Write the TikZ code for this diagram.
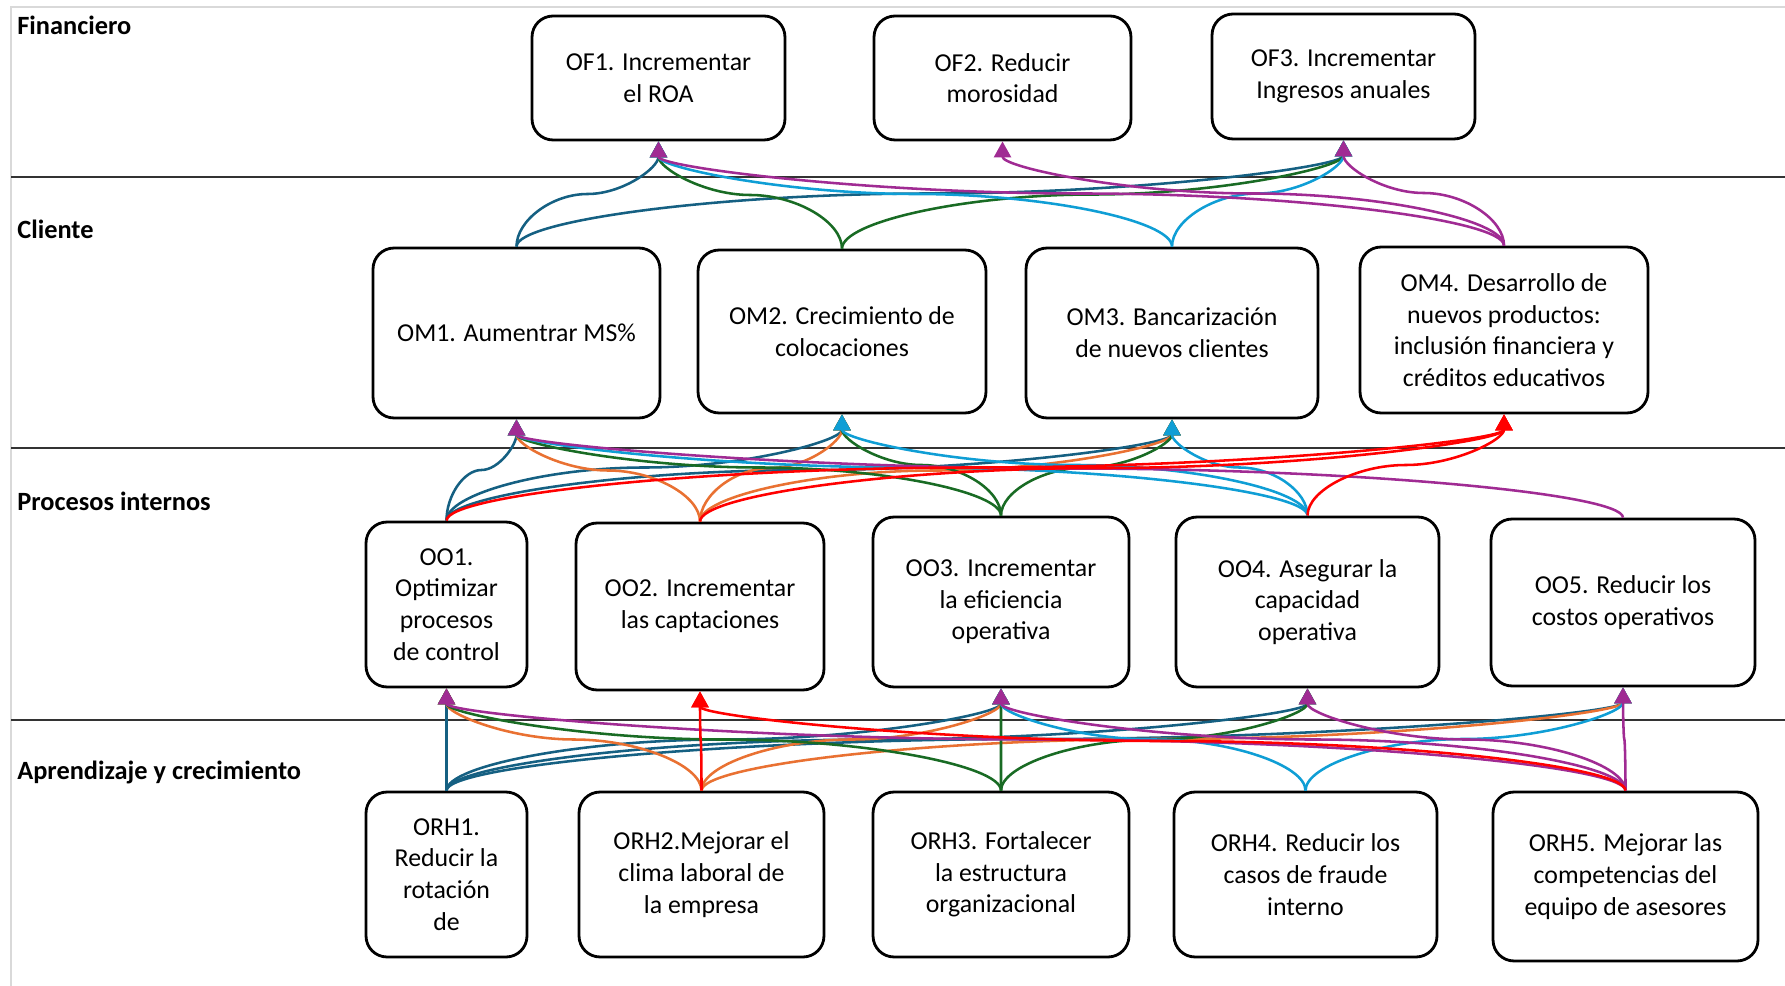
\documentclass[tikz,border=0pt]{standalone}
\usepackage{fontspec}
\setmainfont{Carlito}
\usetikzlibrary{calc}
\usetikzlibrary{arrows.meta}

\definecolor{acteal}{HTML}{156082}
\definecolor{acorange}{HTML}{E97132}
\definecolor{acgreen}{HTML}{196B24}
\definecolor{acblue}{HTML}{0F9ED5}
\definecolor{acpurple}{HTML}{A02B93}
\definecolor{acred}{HTML}{FF0000}
\definecolor{gridgray}{HTML}{D9D9D9}

\tikzset{
  objbox/.style={draw, line width=1.6pt, rounded corners=0.42cm, fill=white, align=center, inner sep=2pt, font=\fontsize{14.7}{18}\selectfont},
  lanelabel/.style={anchor=west, inner sep=0pt, font=\bfseries\fontsize{15}{18}\selectfont},
  elbow/.style={to path={let \p1=(\tikztostart), \p2=(\tikztotarget), \p3=($(\p1)!.5!(\p2)$) in
    .. controls (\x1,{(\y1+\y3)/2}) and ({(3*\x1+\x2)/4},\y3) .. (\p3)
    .. controls ({(\x1+3*\x2)/4},\y3) and (\x2,{(\y3+\y2)/2}) .. (\p2)}},
  link/.style={line width=1.45pt, elbow, -{Triangle[length=0.32cm,width=0.34cm]}},
  laneline/.style={line width=0.9pt, black!80},
}

\begin{document}
\begin{tikzpicture}[x=0.02cm, y=-0.02cm]
		\useasboundingbox (0,0) rectangle (1785,986);
		\draw[gridgray, line width=0.8pt] (11,986) -- (11,7) -- (1785,7);
		\draw[laneline] (11,177) -- (1785,177);
		\draw[laneline] (11,448) -- (1785,448);
		\draw[laneline] (11,720) -- (1785,720);
		% lanes
		\node[lanelabel] at (17,25) (lfin) {Financiero};
		\node[lanelabel] at (17,229) (lcli) {Cliente};
		\node[lanelabel] at (17,501) (lpro) {Procesos internos};
		\node[lanelabel] at (17,772) (lapr) {Aprendizaje y crecimiento};
		% financiero
		\node[objbox, minimum width=5.06cm, minimum height=2.48cm] at (658.5,78) (of1) {OF1. Incrementar\\el ROA};
		\node[objbox, minimum width=5.14cm, minimum height=2.48cm] at (1002.5,78) (of2) {OF2. Reducir\\morosidad};
		\node[objbox, minimum width=5.26cm, minimum height=2.5cm] at (1343.5,76.5) (of3) {OF3. Incrementar\\Ingresos anuales};
		% cliente
		\node[objbox, minimum width=5.74cm, minimum height=3.4cm] at (516.5,333) (om1) {OM1. Aumentrar MS\%};
		\node[objbox, minimum width=5.76cm, minimum height=3.26cm] at (842,331.5) (om2) {OM2. Crecimiento de\\colocaciones};
		\node[objbox, minimum width=5.84cm, minimum height=3.4cm] at (1172,333) (om3) {OM3. Bancarización\\de nuevos clientes};
		\node[objbox, minimum width=5.76cm, minimum height=3.32cm] at (1504,330) (om4) {OM4. Desarrollo de\\nuevos productos:\\inclusión financiera y\\créditos educativos};
		% procesos internos
		\node[objbox, minimum width=3.22cm, minimum height=3.3cm] at (446.5,604.5) (oo1) {OO1.\\Optimizar\\procesos\\de control};
		\node[objbox, minimum width=4.96cm, minimum height=3.34cm] at (700,606.5) (oo2) {OO2. Incrementar\\las captaciones};
		\node[objbox, minimum width=5.12cm, minimum height=3.4cm] at (1001,602) (oo3) {OO3. Incrementar\\la eficiencia\\operativa};
		\node[objbox, minimum width=5.26cm, minimum height=3.4cm] at (1307.5,602) (oo4) {OO4. Asegurar la\\capacidad\\operativa};
		\node[objbox, minimum width=5.28cm, minimum height=3.34cm] at (1623,602.5) (oo5) {OO5. Reducir los\\costos operativos};
		% aprendizaje
		\node[objbox, minimum width=3.22cm, minimum height=3.3cm] at (446.5,874.5) (orh1) {ORH1.\\Reducir la\\rotación\\de};
		\node[objbox, minimum width=4.9cm, minimum height=3.3cm] at (701.5,874.5) (orh2) {ORH2.Mejorar el\\clima laboral de\\la empresa};
		\node[objbox, minimum width=5.12cm, minimum height=3.3cm] at (1001,874.5) (orh3) {ORH3. Fortalecer\\la estructura\\organizacional};
		\node[objbox, minimum width=5.26cm, minimum height=3.3cm] at (1305.5,874.5) (orh4) {ORH4. Reducir los\\casos de fraude\\interno};
		\node[objbox, minimum width=5.3cm, minimum height=3.38cm] at (1625.5,876.5) (orh5) {ORH5. Mejorar las\\competencias del\\equipo de asesores};
		% cliente -> financiero
		\draw[link, acteal] (om1.north) to (of1.south);
		\draw[link, acteal] (om1.north) to (of3.south);
		\draw[link, acgreen] (om2.north) to (of1.south);
		\draw[link, acgreen] (om2.north) to (of3.south);
		\draw[link, acblue] (om3.north) to (of1.south);
		\draw[link, acblue] (om3.north) to (of3.south);
		\draw[link, acpurple] (om4.north) to (of1.south);
		\draw[link, acpurple] (om4.north) to (of2.south);
		\draw[link, acpurple] (om4.north) to (of3.south);
		% procesos -> cliente
		\draw[link, acteal] (oo1.north) to (om1.south);
		\draw[link, acteal] (oo1.north) to (om2.south);
		\draw[link, acteal] (oo1.north) to (om3.south);
		\draw[link, acorange] (oo2.north) to (om1.south);
		\draw[link, acorange] (oo2.north) to (om2.south);
		\draw[link, acorange] (oo2.north) to (om3.south);
		\draw[link, acgreen] (oo3.north) to (om1.south);
		\draw[link, acgreen] (oo3.north) to (om2.south);
		\draw[link, acgreen] (oo3.north) to (om3.south);
		\draw[link, acblue] (oo4.north) to (om1.south);
		\draw[link, acblue] (oo4.north) to (om2.south);
		\draw[link, acblue] (oo4.north) to (om3.south);
		\draw[link, acpurple] (oo5.north) to (om1.south);
		\draw[link, acred] (oo1.north) to (om4.south);
		\draw[link, acred] (oo2.north) to (om4.south);
		\draw[link, acred] (oo4.north) to (om4.south);
		% aprendizaje -> procesos
		\draw[link, acteal] (orh1.north) to (oo1.south);
		\draw[link, acteal] (orh1.north) to (oo3.south);
		\draw[link, acteal] (orh1.north) to (oo4.south);
		\draw[link, acteal] (orh1.north) to (oo5.south);
		\draw[link, acorange] (orh2.north) to (oo1.south);
		\draw[link, acorange] (orh2.north) to (oo3.south);
		\draw[link, acorange] (orh2.north) to (oo5.south);
		\draw[link, acgreen] (orh3.north) to (oo3.south);
		\draw[link, acgreen] (orh3.north) to (oo1.south);
		\draw[link, acgreen] (orh3.north) to (oo4.south);
		\draw[link, acblue] (orh4.north) to (oo3.south);
		\draw[link, acblue] (orh4.north) to (oo5.south);
		\draw[link, acpurple] (orh5.north) to (oo5.south);
		\draw[link, acpurple] (orh5.north) to (oo4.south);
		\draw[link, acpurple] (orh5.north) to (oo3.south);
		\draw[link, acpurple] (orh5.north) to (oo1.south);
		\draw[link, acred] (orh2.north) to (oo2.south);
		\draw[link, acred] (orh5.north) to (oo2.south);
	\end{tikzpicture}
\end{document}
